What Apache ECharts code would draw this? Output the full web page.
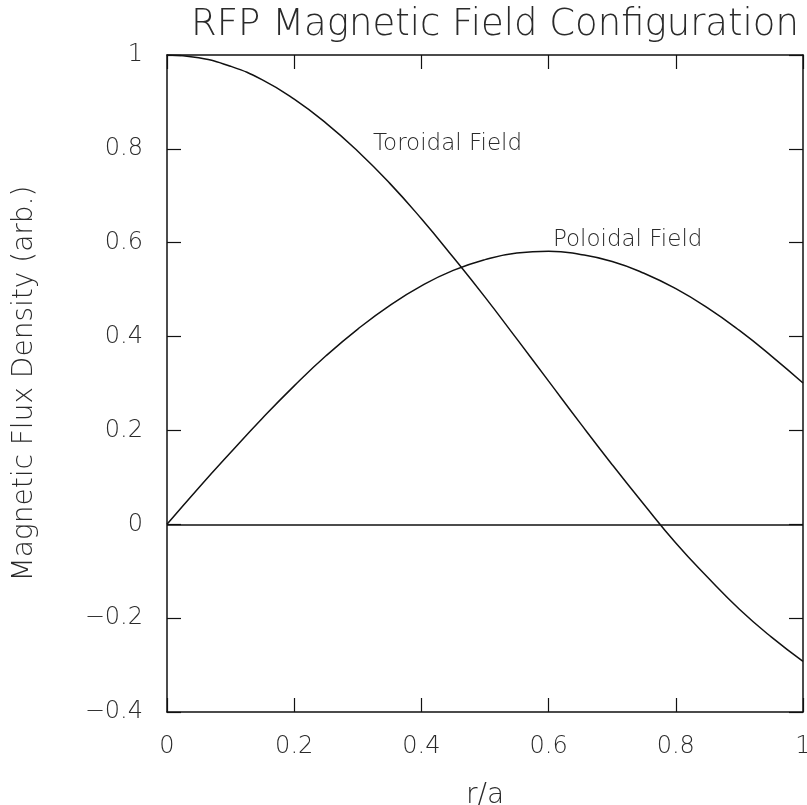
<!DOCTYPE html>
<html>
<head>
<meta charset="utf-8">
<script src="https://cdn.jsdelivr.net/npm/echarts@6/dist/echarts.min.js"></script>
<style>html,body{margin:0;padding:0;background:#fff}#c{width:807px;height:805px}</style>
</head>
<body>
<div id="c"></div>
<script>
const rValues = [0,0.05,0.1,0.15,0.2,0.25,0.3,0.35,0.4,0.45,0.5,0.55,0.6,0.65,0.7,0.75,0.8,0.85,0.9,0.95,1.0];
const toroidal = [1.0,0.994,0.976,0.947,0.906,0.855,0.795,0.727,0.651,0.569,0.484,0.395,0.305,0.215,0.127,0.042,-0.040,-0.113,-0.181,-0.240,-0.292];
const poloidal = [0.0,0.078,0.153,0.226,0.295,0.359,0.416,0.466,0.508,0.541,0.564,0.578,0.582,0.575,0.560,0.535,0.502,0.461,0.413,0.359,0.301];
const xTicks = [0,0.2,0.4,0.6,0.8,1];
const yTicks = [-0.4,-0.2,0,0.2,0.4,0.6,0.8,1];
const labels = [
  {text:'Toroidal Field', r:0.323, v:0.81},
  {text:'Poloidal Field', r:0.606, v:0.605}
];

const FONT = 'DejaVu Sans';
const INK = '#111';
const TXT = '#2a2a2a';
const fmt = v => { const s = String(+v.toFixed(1)); return s.replace('-', '\u2212'); };
const pairs = arr => rValues.map((r,i)=>[r,arr[i]]);

const axisCommon = {
  axisLine:{show:true,onZero:false,lineStyle:{color:INK,width:1.5}},
  axisTick:{show:true,inside:true,length:14,lineStyle:{color:INK,width:1.2}},
  splitLine:{show:false}
};

const chart = echarts.init(document.getElementById('c'), null, {renderer:'canvas'});
chart.setOption({
  backgroundColor:'#fff',
  animation:false,
  title:{text:'RFP Magnetic Field Configuration',left:490,top:2,textAlign:'center',
    textStyle:{fontFamily:FONT,fontSize:37,fontWeight:200,color:TXT}},
  grid:{left:167,right:4,top:55,bottom:93,outerBoundsMode:'none',containLabel:false},
  xAxis:[
    Object.assign({type:'value',position:'bottom',min:0,max:1,interval:0.2,
      name:'r/a',nameLocation:'middle',nameGap:70,
      nameTextStyle:{fontFamily:FONT,fontSize:28,fontWeight:200,color:TXT},
      axisLabel:{fontFamily:FONT,fontSize:24,fontWeight:200,color:TXT,margin:23,formatter:v=>fmt(v)}},axisCommon),
    Object.assign({type:'value',position:'top',min:0,max:1,interval:0.2,axisLabel:{show:false}},axisCommon)
  ],
  yAxis:[
    Object.assign({type:'value',position:'left',min:-0.4,max:1,interval:0.2,
      name:'Magnetic Flux Density (arb.)',nameLocation:'middle',nameGap:128,
      nameTextStyle:{fontFamily:FONT,fontSize:28,fontWeight:200,color:TXT},
      axisLabel:{fontFamily:FONT,fontSize:24,fontWeight:200,color:TXT,margin:24,formatter:v=>fmt(v)}},axisCommon),
    Object.assign({type:'value',position:'right',min:-0.4,max:1,interval:0.2,axisLabel:{show:false}},axisCommon)
  ],
  series:[
    {type:'line',name:'Toroidal Field',data:pairs(toroidal),smooth:true,showSymbol:false,
      lineStyle:{color:INK,width:1.5},
      markLine:{silent:true,symbol:'none',label:{show:false},lineStyle:{color:INK,width:1.5,type:'solid'},data:[{yAxis:0}]},
      markPoint:{symbol:'circle',symbolSize:1,itemStyle:{color:'rgba(0,0,0,0)'},
        data:labels.map(l=>({coord:[l.r,l.v],value:l.text,
        label:{show:true,formatter:l.text,position:'right',distance:0,fontFamily:FONT,fontSize:23,fontWeight:200,color:TXT}}))}},
    {type:'line',name:'Poloidal Field',data:pairs(poloidal),smooth:true,showSymbol:false,
      lineStyle:{color:INK,width:1.5}}
  ]
});
</script>
</body>
</html>
